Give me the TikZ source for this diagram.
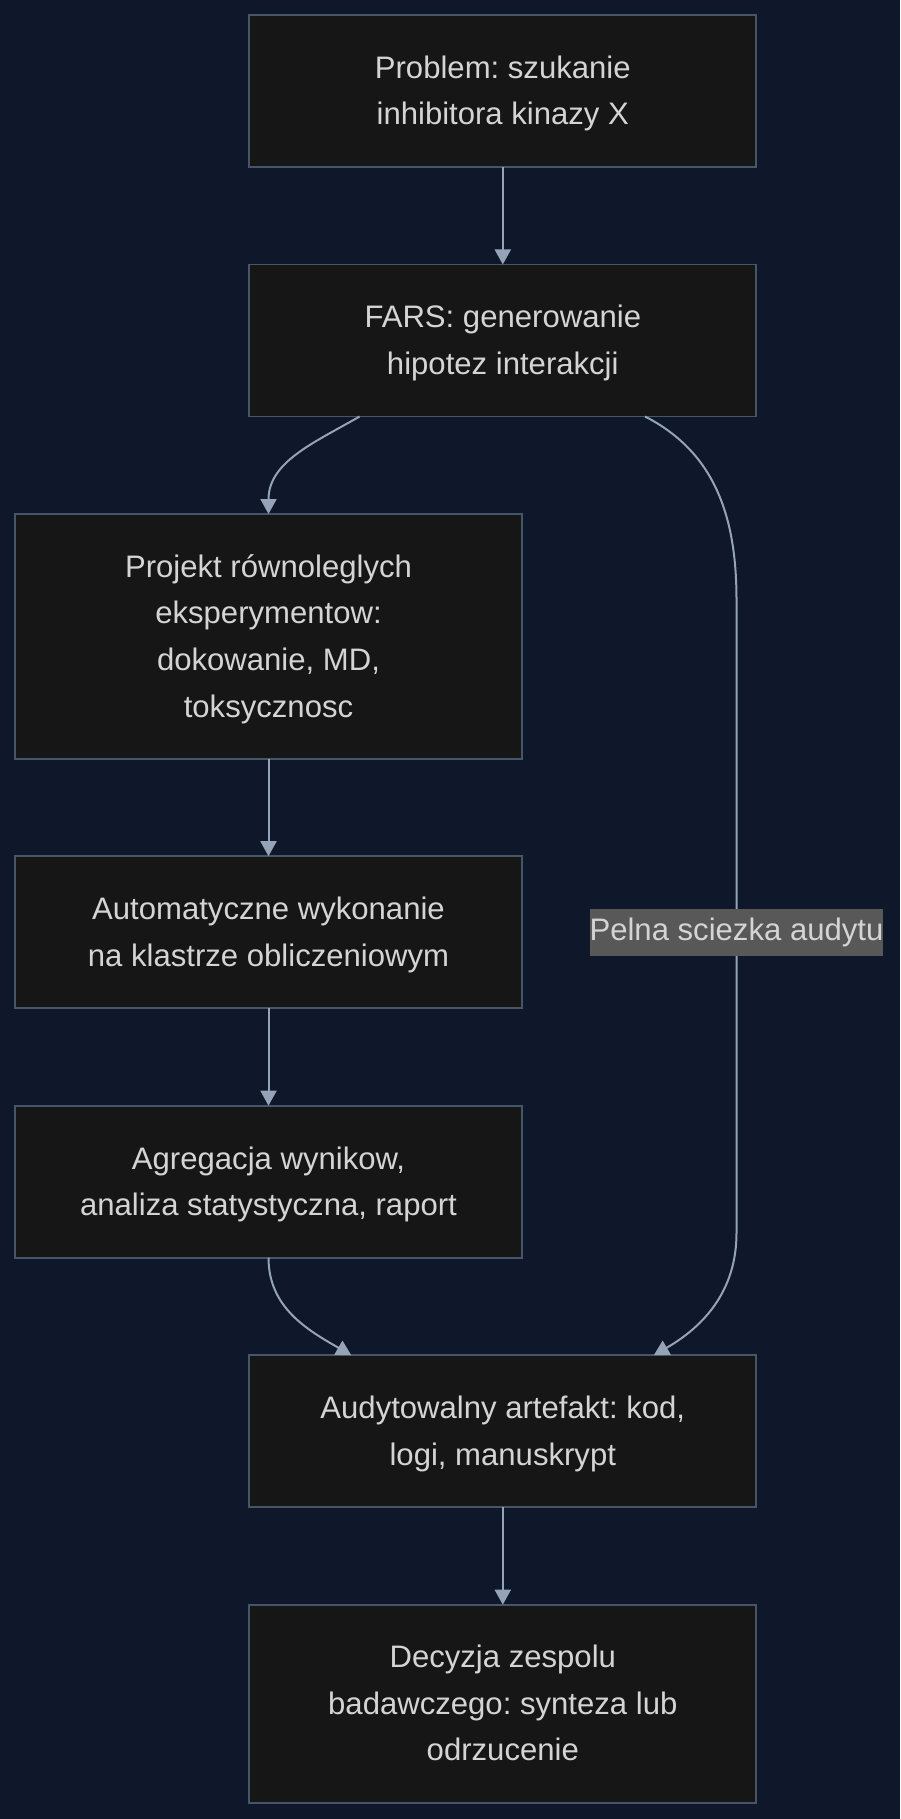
\documentclass[tikz,border=0pt]{standalone}
\usepackage{fontspec}
\setmainfont{Liberation Sans}
\frenchspacing
\usetikzlibrary{arrows.meta,positioning}
\definecolor{tlo}{RGB}{15,23,42}
\definecolor{wypelnienie}{RGB}{22,22,22}
\definecolor{ramka}{RGB}{71,85,105}
\definecolor{linia}{RGB}{148,163,184}
\definecolor{tekst}{RGB}{212,212,212}
\definecolor{etykieta}{RGB}{88,88,88}

\begin{document}
\begin{tikzpicture}[
    x=1pt, y=1pt,
    node distance=97.5pt,
    every node/.style={draw=ramka, line width=1.8pt, fill=wypelnienie, text=tekst,
      minimum width=507pt, minimum height=152pt, align=center, outer sep=0pt,
      text depth=1.3pt, font=\fontsize{31.1}{46.6}\selectfont},
    strzalka/.style={-{Triangle[length=15pt,width=16pt]}, draw=linia, line width=2pt}
  ]
  \fill[tlo] (0,0) rectangle (900,-1819);
  \useasboundingbox (0,0) rectangle (900,-1819);
  \node (problem) at (502.8,-91) {Problem: szukanie\\inhibitora kinazy X};
  \node (fars) [below=of problem] {FARS: generowanie\\hipotez interakcji};
  \node (projekt) [below=of fars, xshift=-234.3pt, minimum height=244.7pt]
    {Projekt równoleglych\\eksperymentow:\\dokowanie, MD,\\toksycznosc};
  \node (wykon) [below=of projekt] {Automatyczne wykonanie\\na klastrze obliczeniowym};
  \node (agreg) [below=of wykon] {Agregacja wynikow,\\analiza statystyczna, raport};
  \node (audyt) [below=of agreg, xshift=234.3pt]
    {Audytowalny artefakt: kod,\\logi, manuskrypt};
  \node (decyzja) [below=of audyt, minimum height=198pt]
    {Decyzja zespolu\\badawczego: synteza lub\\odrzucenie};
  \draw[strzalka] (problem) -- (fars);
  \draw[strzalka] ([xshift=-143.2pt]fars.south) to[out=-150,in=90] (projekt.north);
  \draw[strzalka] (projekt) -- (wykon);
  \draw[strzalka] (wykon) -- (agreg);
  \draw[strzalka] (agreg.south) to[out=-90,in=150] ([xshift=-151.5pt]audyt.north);
  \draw[strzalka] (audyt) -- (decyzja);
  % sciezka audytu po prawej
  \coordinate (gora) at (736.5,-600);
  \coordinate (dol) at (736.5,-1233);
  \draw[strzalka] ([xshift=142.2pt]fars.south) to[out=-27,in=90] (gora)
    -- node[pos=0.525, draw=none, fill=etykieta, minimum width=0pt, minimum height=47pt,
      inner xsep=0pt, inner ysep=0pt, text depth={}] {Pelna sciezka audytu} (dol)
    to[out=-90,in=30] ([xshift=151pt]audyt.north);
\end{tikzpicture}
\end{document}
